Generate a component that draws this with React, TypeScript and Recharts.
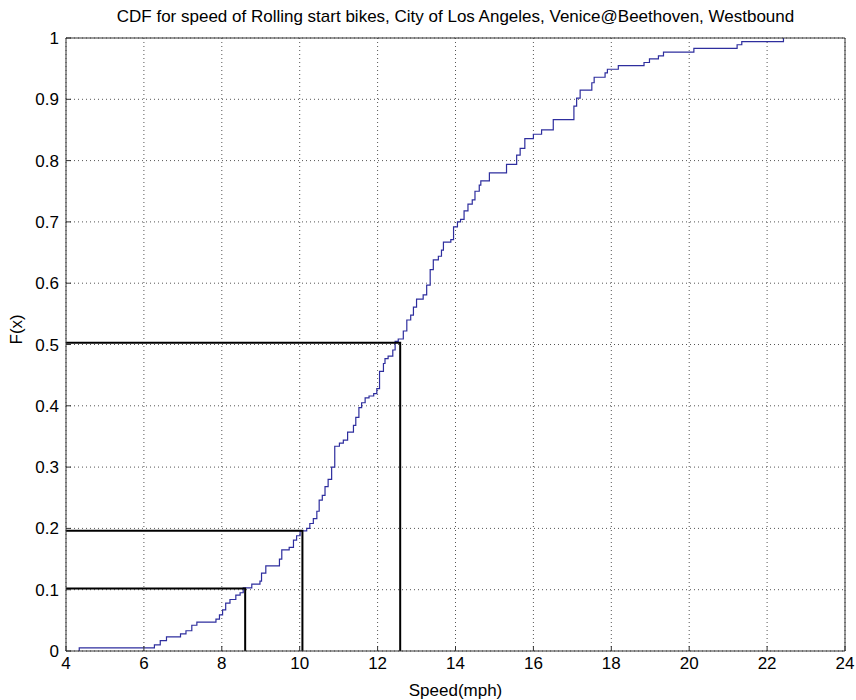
import { LineChart, Line, XAxis, YAxis, CartesianGrid } from "recharts";

const speeds = [
  4.34, 4.34, 6.27, 6.42, 6.58, 6.94, 7.08, 7.23, 7.36, 7.85, 7.94, 8.02, 8.1, 8.21,
  8.36, 8.47, 8.55, 8.77, 8.98, 9.02, 9.13, 9.48, 9.54, 9.73, 9.84, 9.92, 10.01,
  10.18, 10.26, 10.35, 10.44, 10.5, 10.58, 10.65, 10.73, 10.82, 10.9, 11.02, 11.12,
  11.23, 11.38, 11.44, 11.52, 11.59, 11.68, 11.78, 11.9, 11.98, 12.05, 12.15, 12.19,
  12.27, 12.39, 12.45, 12.53, 12.66, 12.75, 12.85, 12.92, 13.0, 13.17, 13.26, 13.35,
  13.43, 13.56, 13.64, 13.69, 13.88, 13.95, 14.05, 14.13, 14.22, 14.32, 14.43, 14.5,
  14.61, 14.65, 14.87, 15.31, 15.57, 15.66, 15.78, 16.0, 16.21, 16.51, 17.04, 17.11,
  17.2, 17.5, 17.56, 17.84, 17.9, 18.18, 18.84, 18.98, 19.21, 19.34, 20.12, 21.23,
  21.35, 22.42,
];
const cdf = [
  0, 0.005, 0.01, 0.017, 0.023, 0.028, 0.033, 0.042, 0.047, 0.052, 0.059, 0.067, 0.078,
  0.084, 0.091, 0.095, 0.103, 0.109, 0.114, 0.127, 0.139, 0.15, 0.165, 0.169, 0.181,
  0.188, 0.196, 0.2, 0.208, 0.216, 0.228, 0.246, 0.254, 0.268, 0.28, 0.3, 0.334, 0.339,
  0.344, 0.357, 0.368, 0.381, 0.397, 0.405, 0.413, 0.416, 0.42, 0.428, 0.456, 0.469,
  0.477, 0.481, 0.491, 0.505, 0.509, 0.522, 0.54, 0.548, 0.561, 0.574, 0.581, 0.597,
  0.622, 0.638, 0.644, 0.654, 0.667, 0.671, 0.692, 0.7, 0.704, 0.718, 0.729, 0.736,
  0.75, 0.76, 0.767, 0.78, 0.794, 0.809, 0.82, 0.836, 0.843, 0.85, 0.867, 0.889, 0.902,
  0.915, 0.927, 0.936, 0.943, 0.949, 0.955, 0.96, 0.966, 0.971, 0.977, 0.983, 0.989,
  0.994, 1.0,
];

// percentile markers (10th, 20th, 50th)
const quantileSpeeds = [8.6, 10.07, 12.58];
const quantileLevels = [0.102, 0.196, 0.503];

const xTicks = [4, 6, 8, 10, 12, 14, 16, 18, 20, 22, 24];
const yTicks = [0, 0.1, 0.2, 0.3, 0.4, 0.5, 0.6, 0.7, 0.8, 0.9, 1];

const X_MIN = 4;
const FONT = "'Liberation Sans', Arial, sans-serif";

const cdfData = speeds.map((s, i) => ({ x: s, y: cdf[i] }));

const markerData = quantileSpeeds.map((q, i) => [
  { x: X_MIN, y: quantileLevels[i] },
  { x: q, y: quantileLevels[i] },
  { x: q, y: 0 },
]);

const fmtY = (v: number) => (v === 0 || v === 1 ? String(v) : v.toFixed(1));

export default function App() {
  return (
    <div style={{ position: "absolute", left: 0, top: 0, width: 856, height: 700, background: "#fff", fontFamily: FONT }}>
      <div
        style={{
          position: "absolute",
          left: 66,
          width: 779,
          top: 7,
          textAlign: "center",
          fontSize: 17,
          lineHeight: "20px",
          color: "#000",
        }}
      >
        CDF for speed of Rolling start bikes, City of Los Angeles, Venice@Beethoven, Westbound
      </div>
      <LineChart
        width={856}
        height={700}
        data={cdfData}
        margin={{ top: 37, right: 10, bottom: 0, left: 0 }}
        style={{ fontFamily: FONT }}
      >
        <CartesianGrid
          stroke="#555"
          strokeDasharray="1 3"
          verticalValues={xTicks}
          horizontalValues={yTicks}
        />
        <XAxis
          dataKey="x"
          type="number"
          domain={[4, 24]}
          ticks={xTicks}
          allowDataOverflow
          height={49}
          stroke="#333"
          tickSize={-5}
          tickMargin={11}
          tick={{ fill: "#000", fontSize: 17 }}
          label={{ value: "Speed(mph)", position: "insideBottom", offset: 4, fill: "#000", fontSize: 17 }}
        />
        <XAxis
          xAxisId="top"
          orientation="top"
          type="number"
          domain={[4, 24]}
          ticks={xTicks}
          height={1}
          stroke="#333"
          tickSize={-5}
          tick={false}
        />
        <YAxis
          type="number"
          domain={[0, 1]}
          ticks={yTicks}
          width={66}
          stroke="#333"
          tickSize={-5}
          tickMargin={12}
          tickFormatter={fmtY}
          tick={{ fill: "#000", fontSize: 17 }}
          label={{ value: "F(x)", angle: -90, position: "insideLeft", offset: 16, fill: "#000", fontSize: 17 }}
        />
        <YAxis
          yAxisId="right"
          orientation="right"
          type="number"
          domain={[0, 1]}
          ticks={yTicks}
          width={1}
          stroke="#333"
          tickSize={-5}
          tick={false}
        />
        <Line
          type="stepAfter"
          dataKey="y"
          stroke="#2e2e9e"
          strokeWidth={1.2}
          dot={false}
          isAnimationActive={false}
        />
        {markerData.map((d, i) => (
          <Line
            key={i}
            data={d}
            type="linear"
            dataKey="y"
            stroke="#000"
            strokeWidth={2}
            dot={false}
            isAnimationActive={false}
          />
        ))}
      </LineChart>
    </div>
  );
}
